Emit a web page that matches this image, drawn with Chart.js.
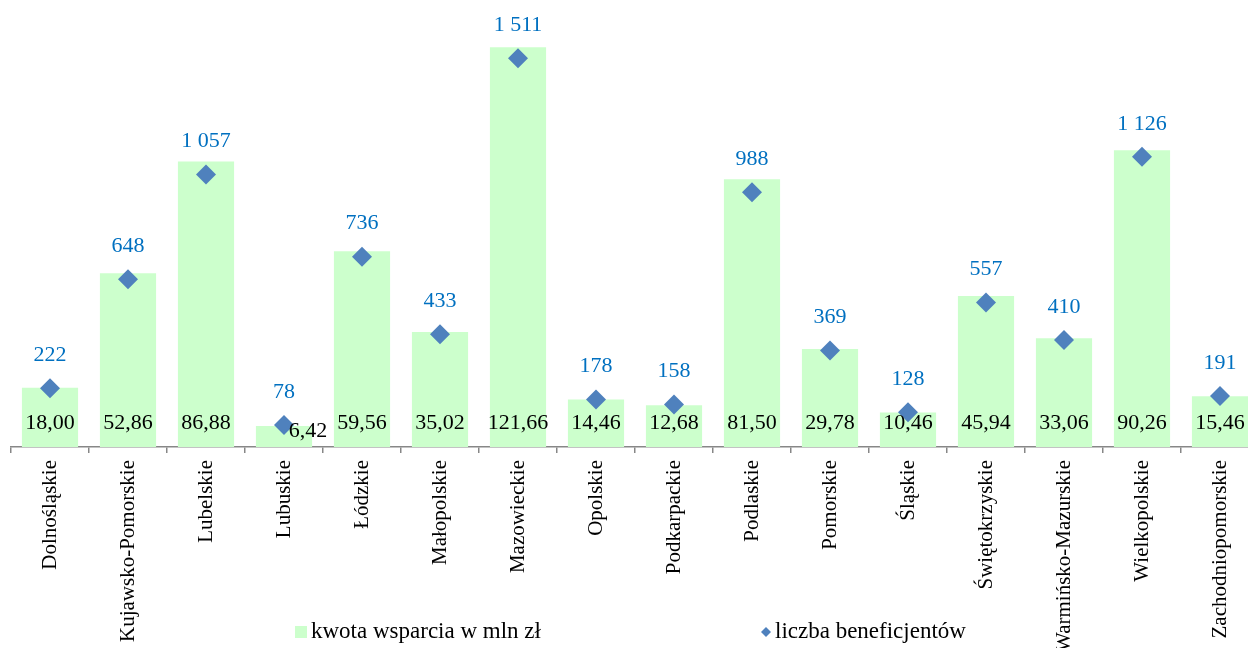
<!DOCTYPE html>
<html>
<head>
<meta charset="utf-8">
<script src="https://cdn.jsdelivr.net/npm/chart.js@4"></script>
<style>
  body { margin: 0; overflow: hidden; background: #fff; }
  #wrap { width: 1270px; height: 648px; position: relative; }
</style>
</head>
<body>
<div id="wrap"><canvas id="chart"></canvas></div>
<script>
// województwa
var regions = [
    'Dolnośląskie', 'Kujawsko-Pomorskie', 'Lubelskie', 'Lubuskie', 'Łódzkie',
    'Małopolskie', 'Mazowieckie', 'Opolskie', 'Podkarpackie', 'Podlaskie',
    'Pomorskie', 'Śląskie', 'Świętokrzyskie', 'Warmińsko-Mazurskie',
    'Wielkopolskie', 'Zachodniopomorskie'
];
// kwota wsparcia w mln zł
var amounts = [18.00, 52.86, 86.88, 6.42, 59.56, 35.02, 121.66, 14.46, 12.68, 81.50, 29.78, 10.46, 45.94, 33.06, 90.26, 15.46];
// liczba beneficjentów
var beneficiaries = [222, 648, 1057, 78, 736, 433, 1511, 178, 158, 988, 369, 128, 557, 410, 1126, 191];

var seriesNames = ['kwota wsparcia w mln zł', 'liczba beneficjentów'];

var barColor = '#ccffcc';
var pointColor = '#4f81bd';
var serif = "'Liberation Serif', 'Times New Roman', serif";

function fmtAmount(v) {
    return v.toFixed(2).replace('.', ',');
}
function fmtCount(v) {
    return String(v).replace(/\B(?=(\d{3})+(?!\d))/g, ' ');
}

// etykiety wartości
var labelsPlugin = {
    id: 'valueLabels',
    afterDatasetsDraw: function(chart) {
        var ctx = chart.ctx;
        ctx.save();
        ctx.font = '22px ' + serif;
        ctx.textAlign = 'center';
        ctx.textBaseline = 'middle';
        ctx.fillStyle = '#000';
        chart.getDatasetMeta(0).data.forEach(function(el, i) {
            var h = el.base - el.y;
            if (h > 30) {
                ctx.fillText(fmtAmount(amounts[i]), el.x, el.base - 24);
            } else {
                ctx.fillText(fmtAmount(amounts[i]), el.x + 24, el.base - 16);
            }
        });
        ctx.fillStyle = '#0070c0';
        chart.getDatasetMeta(1).data.forEach(function(el, i) {
            ctx.fillText(fmtCount(beneficiaries[i]), el.x, el.y - 33);
        });
        ctx.restore();
    }
};

// legenda
var legendPlugin = {
    id: 'customLegend',
    afterDraw: function(chart) {
        var ctx = chart.ctx;
        ctx.save();
        ctx.font = '23px ' + serif;
        ctx.textBaseline = 'middle';
        ctx.textAlign = 'left';
        ctx.fillStyle = barColor;
        ctx.fillRect(295, 626, 12, 12);
        ctx.fillStyle = '#000';
        ctx.fillText(seriesNames[0], 311, 632);
        ctx.fillStyle = pointColor;
        ctx.beginPath();
        ctx.moveTo(766, 627);
        ctx.lineTo(771, 632);
        ctx.lineTo(766, 637);
        ctx.lineTo(761, 632);
        ctx.closePath();
        ctx.fill();
        ctx.fillStyle = '#000';
        ctx.fillText(seriesNames[1], 775, 632);
        ctx.restore();
    }
};

var chart = new Chart(document.getElementById('chart'), {
    type: 'bar',
    data: {
        labels: regions,
        datasets: [
            {
                label: seriesNames[0],
                data: amounts,
                backgroundColor: barColor,
                hoverBackgroundColor: barColor,
                borderWidth: 0,
                barPercentage: 0.72,
                categoryPercentage: 1,
                yAxisID: 'y',
                order: 2
            },
            {
                type: 'line',
                label: seriesNames[1],
                data: beneficiaries,
                showLine: false,
                pointStyle: 'rectRot',
                pointRadius: 10,
                pointHoverRadius: 10,
                pointBackgroundColor: pointColor,
                pointBorderColor: pointColor,
                pointBorderWidth: 0,
                yAxisID: 'y2',
                order: 1
            }
        ]
    },
    plugins: [labelsPlugin, legendPlugin],
    options: {
        responsive: true,
        maintainAspectRatio: false,
        animation: false,
        layout: {
            autoPadding: false,
            padding: { left: 11, right: 11, top: 0, bottom: 0 }
        },
        plugins: {
            legend: { display: false },
            tooltip: { enabled: false }
        },
        scales: {
            x: {
                grid: {
                    display: true,
                    offset: true,
                    drawOnChartArea: false,
                    drawTicks: true,
                    tickLength: 6,
                    color: '#878787',
                    lineWidth: 1.5
                },
                border: { display: true, color: '#878787', width: 1.5 },
                ticks: {
                    autoSkip: false,
                    minRotation: 90,
                    maxRotation: 90,
                    padding: 7,
                    color: '#000',
                    font: { family: serif, size: 21 }
                },
                afterFit: function(scale) {
                    scale.height = 201;
                }
            },
            y: {
                display: false,
                min: 0,
                max: 136
            },
            y2: {
                display: false,
                position: 'right',
                min: -8,
                max: 1739
            }
        }
    }
});
</script>
</body>
</html>
